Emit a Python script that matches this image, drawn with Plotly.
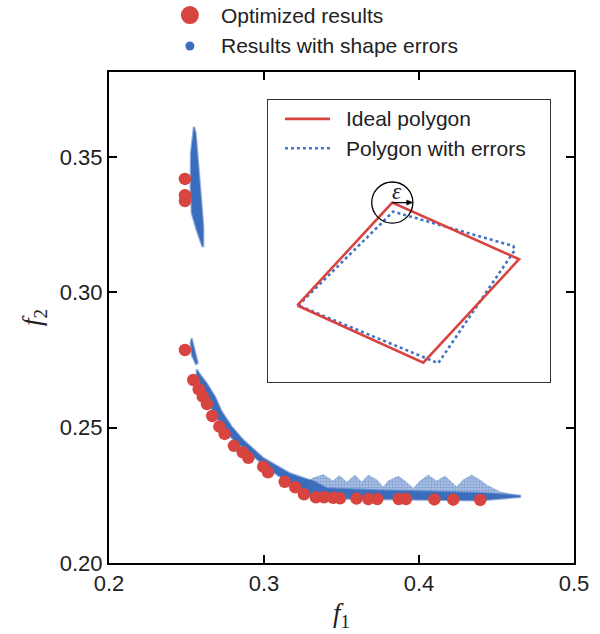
import plotly.graph_objects as go

# ---------------- data ----------------
opt_f1 = [0.2490, 0.2490, 0.2490, 0.2490, 0.2544, 0.2579, 0.2605, 0.2632, 0.2666,
          0.2712, 0.2746, 0.2806, 0.2863, 0.2899, 0.2995, 0.3026, 0.3134, 0.3202,
          0.3258, 0.3335, 0.3387, 0.3447, 0.3490, 0.3597, 0.3673, 0.3731, 0.3869,
          0.3916, 0.4099, 0.4221, 0.4395]
opt_f2 = [0.3419, 0.3359, 0.3337, 0.2787, 0.2676, 0.2642, 0.2615, 0.2587, 0.2543,
          0.2504, 0.2477, 0.2433, 0.2409, 0.2389, 0.2356, 0.2335, 0.2300, 0.2280,
          0.2254, 0.2243, 0.2243, 0.2241, 0.2239, 0.2238, 0.2236, 0.2236, 0.2236,
          0.2236, 0.2235, 0.2234, 0.2233]

# outline of the cloud of results with shape errors (upper cluster)
err_top_f1 = [0.2548, 0.2529, 0.2527, 0.2534, 0.2566, 0.2602, 0.2608, 0.2608,
              0.2598, 0.2587, 0.2581, 0.2572, 0.2559, 0.2548]
err_top_f2 = [0.3612, 0.3515, 0.3390, 0.3293, 0.3230, 0.3171, 0.3171, 0.3242,
              0.3316, 0.3390, 0.3441, 0.3515, 0.3589, 0.3612]

# small sliver at the start of the lower branch
err_sliver_f1 = [0.2533, 0.2546, 0.2555, 0.2572, 0.2561, 0.2535, 0.2527, 0.2533]
err_sliver_f2 = [0.2830, 0.2805, 0.2779, 0.2739, 0.2735, 0.2768, 0.2812, 0.2830]

# dense core of the lower branch
err_core_f1 = [0.2566, 0.2581, 0.2630, 0.2684, 0.2727, 0.2792, 0.2866, 0.2942, 0.2995,
               0.3039, 0.3168, 0.3254, 0.3316, 0.3405, 0.3748, 0.4071, 0.4394, 0.4652,
               0.4652, 0.4394, 0.4071, 0.3748, 0.3469, 0.3318, 0.3254, 0.3168, 0.3039,
               0.2921, 0.2856, 0.2781, 0.2727, 0.2684, 0.2641, 0.2598, 0.2566, 0.2566]
err_core_f2 = [0.2716, 0.2701, 0.2664, 0.2614, 0.2559, 0.2503, 0.2454, 0.2417, 0.2388,
               0.2373, 0.2331, 0.2314, 0.2303, 0.2276, 0.2268, 0.2264, 0.2259, 0.2248,
               0.2244, 0.2231, 0.2233, 0.2235, 0.2238, 0.2245, 0.2263, 0.2294, 0.2344,
               0.2399, 0.2430, 0.2467, 0.2510, 0.2547, 0.2596, 0.2645, 0.2694, 0.2716]

# sparse scattered fringe above the flat part
err_fringe_f1 = [0.3265, 0.3316, 0.3383, 0.3445, 0.3486, 0.3534, 0.3587, 0.3630, 0.3673,
                 0.3729, 0.3770, 0.3800, 0.3866, 0.3910, 0.3963, 0.4006, 0.4060, 0.4114,
                 0.4168, 0.4243, 0.4284, 0.4340, 0.4394, 0.4437, 0.4523, 0.4652,
                 0.4523, 0.4200, 0.3877, 0.3555, 0.3265, 0.3265]
err_fringe_f2 = [0.2292, 0.2314, 0.2327, 0.2303, 0.2323, 0.2299, 0.2325, 0.2299, 0.2325,
                 0.2307, 0.2281, 0.2303, 0.2321, 0.2303, 0.2276, 0.2303, 0.2325, 0.2303,
                 0.2321, 0.2282, 0.2307, 0.2325, 0.2307, 0.2288, 0.2263, 0.2248,
                 0.2240, 0.2240, 0.2244, 0.2251, 0.2262, 0.2292]

# inset: polygon vertices in the inset's own 0-100 frame
ideal_u = [10.4, 44.1, 89.1, 55.1, 10.4]
ideal_v = [27.1, 63.6, 43.5, 6.8, 27.1]
err_u = [10.7, 44.4, 87.0, 87.6, 60.4, 10.7]
err_v = [27.1, 60.4, 48.2, 46.8, 6.6, 27.1]
eps_radius = 7.3

x_ticks = [0.2, 0.3, 0.4, 0.5]
y_ticks = [0.20, 0.25, 0.30, 0.35]

RED = "#d8443f"
BLUE = "#3a6dbd"
FONT = "Liberation Sans, Arial, sans-serif"
SERIF = "Liberation Serif, Times New Roman, serif"

fig = go.Figure()

for fx, fy in [(err_top_f1, err_top_f2), (err_sliver_f1, err_sliver_f2),
               (err_core_f1, err_core_f2)]:
    fig.add_trace(go.Scatter(x=fx, y=fy, mode="lines", fill="toself",
                             fillcolor=BLUE, line=dict(color="rgba(58,109,189,0.55)", width=2.2),
                             showlegend=False, hoverinfo="skip"))

fig.add_trace(go.Scatter(x=err_fringe_f1, y=err_fringe_f2, mode="lines", fill="toself",
                         fillcolor="rgba(58,109,189,0.38)",
                         fillpattern=dict(shape=".", fgcolor="rgba(58,109,189,0.85)",
                                          size=3, solidity=0.5, fillmode="overlay"),
                         line=dict(color="rgba(58,109,189,0.25)", width=1),
                         showlegend=False, hoverinfo="skip"))

fig.add_trace(go.Scatter(x=opt_f1, y=opt_f2, mode="markers",
                         marker=dict(color=RED, size=12.5, line=dict(width=0)),
                         name="Optimized results", showlegend=False))

# inset polygons
fig.add_trace(go.Scatter(x=err_u, y=err_v, mode="lines", xaxis="x2", yaxis="y2",
                         line=dict(color="#4472c4", width=2.6, dash="dot"),
                         showlegend=False, hoverinfo="skip"))
fig.add_trace(go.Scatter(x=ideal_u, y=ideal_v, mode="lines", xaxis="x2", yaxis="y2",
                         line=dict(color=RED, width=2.6),
                         showlegend=False, hoverinfo="skip"))

cu, cv = ideal_u[1], ideal_v[1]
tip = cu + eps_radius
shapes = [
    dict(type="circle", xref="x2", yref="y2", x0=cu - eps_radius, x1=cu + eps_radius,
         y0=cv - eps_radius, y1=cv + eps_radius, line=dict(color="black", width=1.3)),
    dict(type="line", xref="x2", yref="y2", x0=cu, x1=tip - 1.0, y0=cv, y1=cv,
         line=dict(color="black", width=1.2)),
    dict(type="path", xref="x2", yref="y2",
         path=f"M {tip} {cv} L {tip - 2.2} {cv + 0.9} L {tip - 2.2} {cv - 0.9} Z",
         fillcolor="black", line=dict(color="black", width=0.5)),
    # main legend markers
    dict(type="circle", xref="paper", yref="paper", xsizemode="pixel", ysizemode="pixel",
         xanchor=0.174, yanchor=1.116, x0=-9, x1=9, y0=-9, y1=9,
         fillcolor=RED, line=dict(width=0)),
    dict(type="circle", xref="paper", yref="paper", xsizemode="pixel", ysizemode="pixel",
         xanchor=0.174, yanchor=1.053, x0=-4.5, x1=4.5, y0=-4.5, y1=4.5,
         fillcolor=BLUE, line=dict(width=0)),
    # inset legend lines
    dict(type="line", xref="x2", yref="y2", x0=6.0, x1=22.0, y0=93.3, y1=93.3,
         line=dict(color=RED, width=2.6)),
    dict(type="line", xref="x2", yref="y2", x0=6.0, x1=22.0, y0=82.9, y1=82.9,
         line=dict(color="#4472c4", width=2.6, dash="dot")),
]

TXT = dict(family=FONT, size=21, color="#222")
annotations = [
    dict(xref="paper", yref="paper", x=0.236, y=1.116, text="Optimized results",
         showarrow=False, xanchor="left", yanchor="middle", font=TXT),
    dict(xref="paper", yref="paper", x=0.236, y=1.053, text="Results with shape errors",
         showarrow=False, xanchor="left", yanchor="middle", font=TXT),
    dict(xref="x2", yref="y2", x=26.8, y=93.3, text="Ideal polygon",
         showarrow=False, xanchor="left", yanchor="middle", font=TXT),
    dict(xref="x2", yref="y2", x=26.8, y=82.9, text="Polygon with errors",
         showarrow=False, xanchor="left", yanchor="middle", font=TXT),
    dict(xref="x2", yref="y2", x=cu + 1.8, y=cv + 4.0, text="<i>ε</i>",
         showarrow=False, font=dict(family=SERIF, size=23, color="#222")),
]

axis_common = dict(showline=True, linecolor="black", linewidth=2, mirror="ticks",
                   ticks="inside", ticklen=8, tickwidth=2, tickcolor="black",
                   showgrid=False, zeroline=False,
                   tickfont=dict(family=FONT, size=22, color="#222"))

fig.update_layout(
    width=600, height=634,
    margin=dict(l=109, r=26, t=72, b=71),
    plot_bgcolor="white", paper_bgcolor="white",
    showlegend=False,
    xaxis=dict(range=[0.2, 0.5], tickvals=x_ticks, ticktext=[f"{v:.1f}" for v in x_ticks],
               title=dict(text="<i>f</i><sub>1</sub>", font=dict(family=SERIF, size=27, color="#222"),
                          standoff=8),
               **axis_common),
    yaxis=dict(range=[0.2, 0.3814], tickvals=y_ticks, ticktext=[f"{v:.2f}" for v in y_ticks],
               title=dict(text="<i>f</i><sub>2</sub>", font=dict(family=SERIF, size=27, color="#222"),
                          standoff=10),
               **axis_common),
    xaxis2=dict(domain=[0.342, 0.948], range=[0, 100], anchor="y2", showline=True,
                linecolor="#333", linewidth=1.3, mirror=True, showticklabels=False,
                ticks="", showgrid=False, zeroline=False),
    yaxis2=dict(domain=[0.369, 0.943], range=[0, 100], anchor="x2", showline=True,
                linecolor="#333", linewidth=1.3, mirror=True, showticklabels=False,
                ticks="", showgrid=False, zeroline=False),
    shapes=shapes,
    annotations=annotations,
)

fig.write_html("out.html")
